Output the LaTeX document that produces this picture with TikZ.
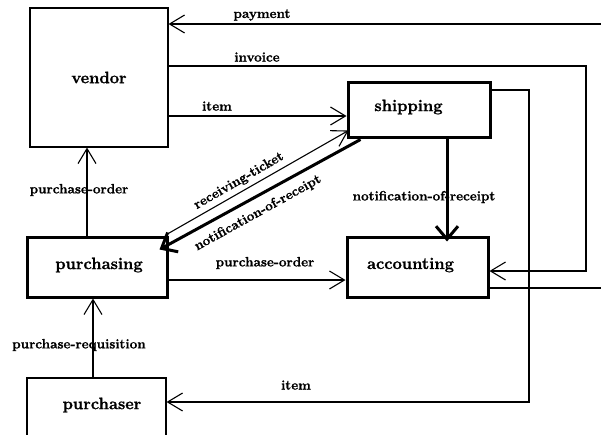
\documentclass[tikz,border=0pt]{standalone}
\usepackage{fontspec}
\setmainfont{Latin Modern Roman}[BoldFeatures={FakeBold=1.2}]
\usetikzlibrary{arrows.meta,calc}
\newcommand\boxfont{\fontsize{16.5}{19}\selectfont\bfseries}
\newcommand\labfont{\fontsize{13.5}{15}\selectfont\bfseries}
\begin{document}
\begin{tikzpicture}[x=1pt,y=-1pt,
  thinbox/.style={draw, line width=1.1pt, inner sep=0pt, font=\boxfont},
  thickbox/.style={draw, line width=3pt, inner sep=0pt, font=\boxfont},
  boxtext/.style={inner sep=0pt, font=\boxfont},
  flow/.style={line width=1.1pt, -{Straight Barb[length=15pt,width=18pt]}},
  heavy/.style={line width=3pt, -{Straight Barb[length=13pt,width=22pt]}},
  plain/.style={line width=1.1pt},
  lab/.style={inner sep=0pt, font=\labfont}]
\useasboundingbox (0,0) rectangle (601,434);

% processes
\node[thinbox, minimum width=138pt, minimum height=139pt] (vendor) at (99,77.5) {vendor};
\node[thickbox, minimum width=142pt, minimum height=55pt] (shipping) at (419,109.5) {};
\node[boxtext] (shippingtext) at (408.5,107) {shipping};
\node[thickbox, minimum width=141pt, minimum height=60pt] (accounting) at (417.5,267) {};
\node[boxtext] (accountingtext) at (410.5,265) {accounting};
\node[thickbox, minimum width=140pt, minimum height=60pt] (purchasing) at (97,267) {};
\node[boxtext] (purchasingtext) at (99,265) {purchasing};
\node[thinbox, minimum width=139pt, minimum height=70pt] (purchaser) at (96.5,413) {};
\node[boxtext] (purchasertext) at (102,405) {purchaser};

% route points
\coordinate (payin) at (601,24);
\coordinate (invA) at (586,66);
\coordinate (invB) at (586,271);
\coordinate (itemY) at (0,116);
\coordinate (shipA) at (529,90);
\coordinate (shipB) at (529,402);
\coordinate (acctY) at (601,288);
\coordinate (notX) at (447,0);
\coordinate (poX) at (87,0);
\coordinate (prX) at (93,0);
\coordinate (poY) at (0,280);

% flows
\draw[flow] (payin) -- (vendor.east |- payin);
\draw[flow] (vendor.east |- invA) -- (invA) -- (invB) -- (accounting.east |- invB);
\draw[flow] (vendor.east |- itemY) -- (shipping.west |- itemY);
\draw[flow] (shipping.east |- shipA) -- (shipA) -- (shipB) -- (purchaser.east |- shipB);
\draw[plain] (accounting.east |- acctY) -- (acctY);
\draw[heavy] (shipping.south -| notX) -- ([yshift=-6pt]accounting.north -| notX);
\draw[flow] (purchasing.north -| poX) -- (vendor.south -| poX);
\draw[flow] (purchaser.north -| prX) -- (purchasing.south -| prX);
\draw[flow] (purchasing.east |- poY) -- (accounting.west |- poY);
\draw[flow] ($(purchasing.north east)+(-2,-1)$) -- ($(shipping.south west)+(2,-8)$);
\draw[heavy] ($(shipping.south west)+(14,1)$) -- ($(purchasing.north east)+(-9,14)$);

% flow labels
\node[lab] (lpay) at (262,15) {payment};
\node[lab] (linv) at (257,57) {invoice};
\node[lab] (litem) at (217,106) {item};
\node[lab] (litem2) at (296,385) {item};
\node[lab] (lnot) at (424,197) {notification-of-receipt};
\node[lab] (lpo1) at (79,190) {purchase-order};
\node[lab] (lpo2) at (265,263) {purchase-order};
\node[lab] (lreq) at (79,345) {purchase-requisition};
\node[lab, rotate=30] (lrt) at (239,181) {receiving-ticket};
\node[lab, rotate=29] (lnot2) at (258,213) {notification-of-receipt};
\end{tikzpicture}
\end{document}
